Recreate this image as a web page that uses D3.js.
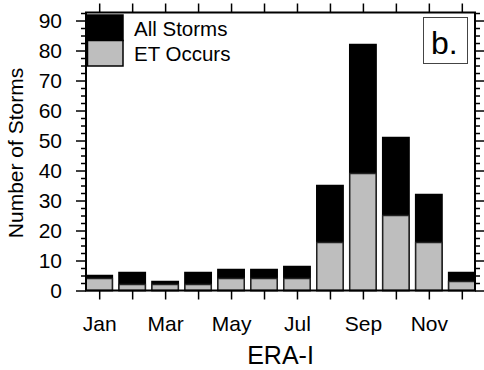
<!DOCTYPE html>
<html>
<head>
<meta charset="utf-8">
<script src="https://cdn.jsdelivr.net/npm/d3@7"></script>
<style>
  body { margin: 0; background: #fff; }
  svg { display: block; font-family: "Liberation Sans", Arial, Helvetica, sans-serif; }
  .tick text { font-size: 21px; fill: #000; }
</style>
</head>
<body>
<div id="chart"></div>
<script>
// data
const months = ["Jan","Feb","Mar","Apr","May","Jun","Jul","Aug","Sep","Oct","Nov","Dec"]
const allStorms = [5, 6, 3, 6, 7, 7, 8, 35, 82, 51, 32, 6]
const etOccurs = [4, 2, 2, 2, 4, 4, 4, 16, 39, 25, 16, 3]
const yMajor = [0, 10, 20, 30, 40, 50, 60, 70, 80, 90]
const labelMonths = ["Jan","Mar","May","Jul","Sep","Nov"]

const W = 484, H = 370
const plot = {left: 86, right: 475, top: 12.5, bottom: 290.5}

const svg = d3.select("#chart").append("svg")
  .attr("width", W)
  .attr("height", H)

const x = d3.scaleLinear().domain([0.6, 12.4]).range([plot.left, plot.right])
const y = d3.scaleLinear().domain([0, 92.67]).range([plot.bottom, plot.top])
const monthNums = d3.range(1, 13)
const yMinor = d3.range(0, 92.6, 2.5).filter(v => v % 10 !== 0)
const barW = 0.8

// bars: all storms in black, ET part in gray on top from zero
const bars = svg.append("g")
bars.selectAll("rect.all")
  .data(allStorms)
  .enter().append("rect")
  .attr("class", "all")
  .attr("x", (d, i) => x(i + 1 - barW / 2))
  .attr("width", x(barW) - x(0))
  .attr("y", d => y(d))
  .attr("height", d => y(0) - y(d))
  .attr("fill", "#000")
  .attr("stroke", "#000")
  .attr("stroke-width", 1.5)

bars.selectAll("rect.et")
  .data(etOccurs)
  .enter().append("rect")
  .attr("class", "et")
  .attr("x", (d, i) => x(i + 1 - barW / 2))
  .attr("width", x(barW) - x(0))
  .attr("y", d => y(d))
  .attr("height", d => y(0) - y(d))
  .attr("fill", "#bebebe")
  .attr("stroke", "#222")
  .attr("stroke-width", 1.5)

// axes
const noDomain = g => g.select(".domain").remove()
const lines = g => g.selectAll(".tick line").attr("stroke", "#000").attr("stroke-width", 1.5)

svg.append("g")
  .attr("transform", `translate(${plot.left},0)`)
  .call(d3.axisLeft(y).tickValues(yMajor).tickSize(10).tickPadding(14))
  .call(noDomain).call(lines)

svg.append("g")
  .attr("transform", `translate(${plot.left},0)`)
  .call(d3.axisLeft(y).tickValues(yMinor).tickSize(5).tickFormat(""))
  .call(noDomain).call(lines)

svg.append("g")
  .attr("transform", `translate(${plot.right},0)`)
  .call(d3.axisRight(y).tickValues(yMajor).tickSize(10).tickFormat(""))
  .call(noDomain).call(lines)

svg.append("g")
  .attr("transform", `translate(${plot.right},0)`)
  .call(d3.axisRight(y).tickValues(yMinor).tickSize(5).tickFormat(""))
  .call(noDomain).call(lines)

svg.append("g")
  .attr("transform", `translate(0,${plot.bottom})`)
  .call(d3.axisBottom(x).tickValues(monthNums).tickSize(9).tickPadding(17)
    .tickFormat(m => labelMonths.includes(months[m - 1]) ? months[m - 1] : ""))
  .call(noDomain).call(lines)

svg.append("g")
  .attr("transform", `translate(0,${plot.top})`)
  .call(d3.axisTop(x).tickValues(monthNums).tickSize(9).tickFormat(""))
  .call(noDomain).call(lines)

// frame
svg.append("rect")
  .attr("x", plot.left)
  .attr("y", plot.top)
  .attr("width", plot.right - plot.left)
  .attr("height", plot.bottom - plot.top)
  .attr("fill", "none")
  .attr("stroke", "#000")
  .attr("stroke-width", 2)

// axis titles
svg.append("text")
  .attr("transform", "translate(23,153) rotate(-90)")
  .attr("text-anchor", "middle")
  .attr("font-size", 21)
  .text("Number of Storms")

svg.append("text")
  .attr("x", (plot.left + plot.right) / 2)
  .attr("y", 364)
  .attr("text-anchor", "middle")
  .attr("font-size", 25)
  .text("ERA-I")

// legend
const legend = [
  {label: "All Storms", fill: "#000"},
  {label: "ET Occurs", fill: "#bebebe"}
]
const lg = svg.append("g")
lg.selectAll("rect")
  .data(legend)
  .enter().append("rect")
  .attr("x", 87.5)
  .attr("y", (d, i) => 15 + i * 25.5)
  .attr("width", 35.5)
  .attr("height", 25.5)
  .attr("fill", d => d.fill)
  .attr("stroke", "#000")
  .attr("stroke-width", 1.5)
lg.selectAll("text")
  .data(legend)
  .enter().append("text")
  .attr("x", 134)
  .attr("y", (d, i) => 35.5 + i * 25)
  .attr("font-size", 20.5)
  .text(d => d.label)

// panel label
svg.append("rect")
  .attr("x", 423.5)
  .attr("y", 17.5)
  .attr("width", 44)
  .attr("height", 46)
  .attr("fill", "#fff")
  .attr("stroke", "#444")
  .attr("stroke-width", 1)
svg.append("text")
  .attr("x", 431)
  .attr("y", 53.5)
  .attr("font-size", 32)
  .text("b.")
</script>
</body>
</html>
